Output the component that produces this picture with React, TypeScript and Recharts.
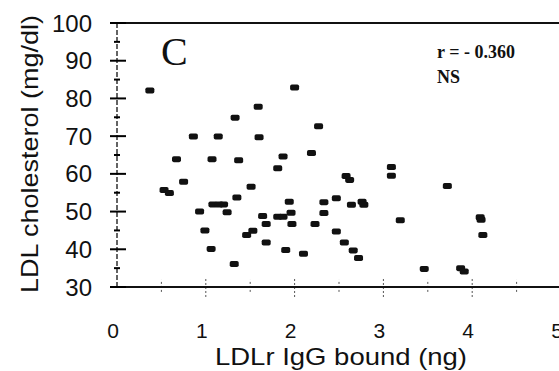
import React from 'react';
import { ScatterChart, Scatter, XAxis, YAxis, ReferenceLine, Customized } from 'recharts';

// LDLr IgG bound (ng)
const ldlrIgG = [
  0.37, 1.33, 0.86, 1.14, 0.67, 1.07, 1.37, 0.75, 0.53, 0.59,
  1.35, 1.08, 1.15, 1.20, 0.93, 1.24, 0.99, 1.06, 1.32, 2.00,
  1.59, 2.27, 1.60, 2.19, 1.87, 1.81, 1.51, 1.94, 2.33, 2.47,
  1.96, 2.33, 1.64, 1.81, 1.87, 1.68, 1.97, 2.23, 2.47, 1.53,
  1.46, 1.68, 1.90, 2.10, 3.09, 3.09, 2.58, 2.62, 3.72, 2.64,
  2.76, 2.78, 3.19, 4.09, 4.10, 4.12, 2.56, 2.66, 2.72, 3.46,
  3.87, 3.91,
];
// LDL cholesterol (mg/dl)
const ldlChol = [
  82.1, 74.9, 69.9, 69.9, 63.9, 63.9, 63.6, 57.9, 55.7, 54.9,
  53.7, 51.9, 51.9, 51.9, 50.0, 49.8, 45.0, 40.1, 36.1, 82.9,
  77.8, 72.6, 69.7, 65.5, 64.6, 61.5, 56.6, 52.6, 52.5, 53.5,
  49.7, 49.6, 48.8, 48.6, 48.6, 46.7, 46.7, 46.7, 44.7, 44.9,
  43.8, 41.8, 39.8, 38.8, 61.8, 59.5, 59.4, 58.4, 56.8, 51.8,
  52.6, 51.8, 47.7, 48.5, 47.8, 43.8, 41.8, 39.7, 37.7, 34.8,
  35.0, 34.1,
];

const xTicks = [0, 0.5, 1, 1.5, 2, 2.5, 3, 3.5, 4, 4.5, 5];
const yTicks = [30, 35, 40, 45, 50, 55, 60, 65, 70, 75, 80, 85, 90, 95, 100];

const panelLetter = 'C';
const statLine1 = 'r = - 0.360';
const statLine2 = 'NS';
const xLabel = 'LDLr IgG bound (ng)';
const yLabel = 'LDL cholesterol (mg/dl)';

const data = ldlrIgG.map((x, i) => ({ x, y: ldlChol[i] }));

const sans = '"Liberation Sans", Arial, sans-serif';
const serif = '"Liberation Serif", "Times New Roman", serif';
const ink = '#111';

// x tick mark extents, in y-axis units (~3.77 px per unit)
const xMajorSpan: [number, number] = [27.35, 32.4];
const xMinorSpan: [number, number] = [28.7, 31.9];

const XTick = (props: any) => {
  const { x, y, payload } = props;
  const v = payload.value;
  if (!Number.isInteger(v)) return <g />;
  return (
    <text x={x - 4} y={y + 51} textAnchor="middle" fontFamily={sans} fontSize={21} fill={ink}>
      {v}
    </text>
  );
};

const YTick = (props: any) => {
  const { x, y, payload } = props;
  const v = payload.value;
  const major = v % 10 === 0;
  return (
    <g>
      <line x1={x - (major ? 7 : 3)} x2={x + (major ? 9 : 3)} y1={y} y2={y}
        stroke="#000" strokeWidth={2} />
      {major && (
        <text x={x - 25} y={y + 8.5} textAnchor="end" fontFamily={sans} fontSize={24} fill={ink}>
          {v}
        </text>
      )}
    </g>
  );
};

const Marker = (props: any) => {
  const { cx, cy } = props;
  return <rect x={cx - 4.5} y={cy - 3} width={9} height={6} rx={1.8} fill={ink} />;
};

const Annotations = () => (
  <g>
    <text x={161} y={65} fontFamily={serif} fontSize={40} fill={ink}>{panelLetter}</text>
    <text x={437} y={58} fontFamily={serif} fontSize={18} fontWeight="bold" fill={ink}>{statLine1}</text>
    <text x={437} y={83} fontFamily={serif} fontSize={18} fontWeight="bold" fill={ink}>{statLine2}</text>
    <text x={341} y={365} textAnchor="middle" fontFamily={sans} fontSize={24} fill={ink}
      textLength={252} lengthAdjust="spacingAndGlyphs">{xLabel}</text>
    <text x={38} y={154} textAnchor="middle" fontFamily={sans} fontSize={24} fill={ink}
      transform="rotate(-90 38 154)" textLength={278} lengthAdjust="spacingAndGlyphs">{yLabel}</text>
  </g>
);

export default function App() {
  return (
    <div style={{ position: 'absolute', left: 0, top: 0, width: 559, height: 371, overflow: 'hidden', background: '#fff' }}>
      <ScatterChart width={570} height={371} margin={{ top: 23, right: 9, bottom: 54, left: 57 }}>
        <XAxis
          type="number" dataKey="x" domain={[0, 5]} ticks={xTicks} interval={0}
          allowDataOverflow height={30}
          axisLine={{ stroke: ink, strokeWidth: 2 }}
          tickLine={false} tickSize={0} tickMargin={0}
          tick={<XTick />}
        />
        <YAxis
          type="number" dataKey="y" domain={[30, 100]} ticks={yTicks} interval={0}
          allowDataOverflow width={60}
          axisLine={{ stroke: '#222', strokeWidth: 1.4, strokeDasharray: '5 2' }}
          tickLine={false} tickSize={0} tickMargin={0}
          tick={<YTick />}
        />
        <ReferenceLine y={100} stroke={ink} strokeWidth={2} ifOverflow="visible" />
        {xTicks.filter((v) => v > 0).map((v) => {
          const major = Number.isInteger(v);
          const span = major ? xMajorSpan : xMinorSpan;
          return (
            <ReferenceLine key={'xt' + v} ifOverflow="visible" stroke="#555" strokeWidth={1} strokeDasharray="2 2"
              segment={[{ x: v, y: span[0] }, { x: v, y: span[1] }]} />
          );
        })}
        <Scatter data={data} shape={<Marker />} isAnimationActive={false} />
        <Customized component={<Annotations />} />
      </ScatterChart>
    </div>
  );
}
